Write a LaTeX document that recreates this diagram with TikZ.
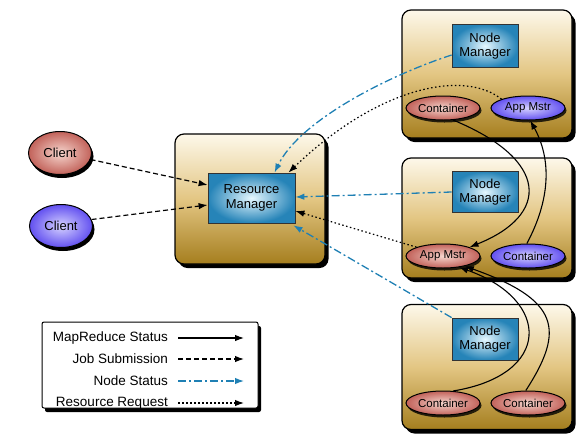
\documentclass[tikz,border=0pt]{standalone}
\usepackage{fontspec}
\setmainfont{Liberation Sans}
\usetikzlibrary{arrows.meta,shadows,calc,shapes.geometric}
\definecolor{nsblue}{HTML}{1F80B4}
\definecolor{boxtop}{HTML}{FDF8EA}
\definecolor{boxmid}{HTML}{E3C683}
\definecolor{boxbot}{HTML}{A57E1E}
\definecolor{mgrout}{HTML}{2684B8}
\definecolor{mgrin}{HTML}{E6F8FF}
\definecolor{redout}{HTML}{C2625A}
\definecolor{redin}{HTML}{F6D6CE}
\definecolor{bluout}{HTML}{6250F0}
\definecolor{bluin}{HTML}{D6D2FF}
\tikzset{
  hostbox/.style={draw=black,line width=1.2pt,rounded corners=9pt,
    top color=boxtop,bottom color=boxbot,middle color=boxmid,
    drop shadow={shadow xshift=3.5pt,shadow yshift=-4pt,fill=black,opacity=1}},
  mgrbox/.style={draw=black!80,line width=0.8pt,inner color=mgrin,outer color=mgrout,
    font=\fontsize{13}{14.5}\selectfont,align=center,minimum width=66pt,inner sep=1pt},
  redell/.style={ellipse,draw=black,line width=1pt,inner color=redin,outer color=redout,
    drop shadow={shadow xshift=1.5pt,shadow yshift=-2.5pt,fill=black,opacity=0.8}},
  bluell/.style={ellipse,draw=black,line width=1pt,inner color=bluin,outer color=bluout,
    drop shadow={shadow xshift=1.5pt,shadow yshift=-2.5pt,fill=black,opacity=0.8}},
  smallell/.style={minimum width=74pt,minimum height=24pt,inner sep=0pt,font=\fontsize{11.5}{12}\selectfont},
  clientell/.style={minimum width=63pt,minimum height=43pt,inner sep=0pt,font=\fontsize{13}{14}\selectfont},
  mrstat/.style={draw=black,line width=1.1pt,-{Latex[length=9pt,width=6.5pt]}},
  jobsub/.style={draw=black,line width=1.2pt,dash pattern=on 5pt off 3pt,-{Latex[length=9pt,width=6.5pt]}},
  nodestat/.style={draw=nsblue,line width=1.3pt,dash pattern=on 8pt off 3pt on 2pt off 3pt,-{Latex[length=9pt,width=6.5pt]}},
  resreq/.style={draw=black,line width=1.2pt,dash pattern=on 1.5pt off 2.5pt,-{Latex[length=9pt,width=6.5pt]}},
  legtext/.style={anchor=east,font=\fontsize{13.5}{14}\selectfont,inner sep=0pt}
}
\begin{document}
\begin{tikzpicture}[x=1pt,y=-1pt]
\useasboundingbox (0,0) rectangle (584,445);
% host boxes
\node[hostbox,minimum width=150pt,minimum height=130pt] (rmbox) at (250,199) {};
\node[hostbox,minimum width=170pt,minimum height=128pt] (h1) at (487,74) {};
\node[hostbox,minimum width=170pt,minimum height=120pt] (h2) at (487,218) {};
\node[hostbox,minimum width=170pt,minimum height=125pt] (h3) at (487,367) {};
% managers
\node[mgrbox,minimum width=87pt,minimum height=50pt] (rm) at (251.5,198) {Resource\\Manager};
\node[mgrbox,minimum height=43pt] (nm1) at (485,46) {Node\\Manager};
\node[mgrbox,minimum height=41pt] (nm2) at (485,192) {Node\\Manager};
\node[mgrbox,minimum height=42pt] (nm3) at (485,339) {Node\\Manager};
% containers
\node[redell,smallell] (c1) at (443,108) {Container};
\node[bluell,smallell] (am1) at (528,108) {App Mstr};
\node[redell,smallell] (am2) at (443,256) {App Mstr};
\node[bluell,smallell] (c2) at (528,256) {Container};
\node[redell,smallell] (c3) at (443,403) {Container};
\node[redell,smallell] (c4) at (528,403) {Container};
% clients
\node[redell,clientell,drop shadow={shadow xshift=2pt,shadow yshift=-3.5pt,fill=black,opacity=1}] (cl1) at (60,153) {Client};
\node[bluell,clientell,drop shadow={shadow xshift=2pt,shadow yshift=-3.5pt,fill=black,opacity=1}] (cl2) at (61,226) {Client};
% job submission
\draw[jobsub] (cl1.-12) -- ([yshift=13pt]rm.west);
\draw[jobsub] (cl2.12) -- ([yshift=-7pt]rm.west);
% node status
\draw[nodestat] ([yshift=-9pt]nm1.west) .. controls (390,75) and (300,120) .. ([xshift=23pt]rm.north);
\draw[nodestat] (nm2.west) -- ([yshift=1pt]rm.east);
\draw[nodestat] (nm3.north west) -- ([xshift=-2pt,yshift=-2pt]rm.south east);
% resource request
\draw[resreq] (am1.north west) .. controls (465,70) and (380,85) .. ([xshift=-7pt]rm.north east);
\draw[resreq] (am2.north west) -- ([yshift=-13pt]rm.east);
% mapreduce status
\draw[mrstat] (c1.-50) .. controls (550,160) and (550,215) .. (am2.north east);
\draw[mrstat] (c2.95) .. controls (550,200) and (552,160) .. (am1.-80);
\draw[mrstat] (c3.50) .. controls (552,375) and (552,300) .. (am2.-35);
\draw[mrstat] (c4.100) .. controls (565,330) and (560,300) .. (am2.-25);
% legend
\node[draw=black,line width=1pt,fill=white,rounded corners=2pt,minimum width=216pt,minimum height=86pt,
  drop shadow={shadow xshift=3pt,shadow yshift=-4pt,fill=black,opacity=1}] (leg) at (150,365) {};
\node[legtext] (l1) at (168,338) {MapReduce Status};
\node[legtext] (l2) at (168,359) {Job Submission};
\node[legtext] (l3) at (168,381) {Node Status};
\node[legtext] (l4) at (168,403) {Resource Request};
\coordinate (e1) at (244,338); \coordinate (e2) at (244,359);
\coordinate (e3) at (244,381); \coordinate (e4) at (244,403);
\draw[mrstat] ([xshift=10pt]l1.east) -- (e1);
\draw[jobsub] ([xshift=10pt]l2.east) -- (e2);
\draw[nodestat] ([xshift=10pt]l3.east|-e3) -- (e3);
\draw[resreq] ([xshift=10pt]l4.east) -- (e4);
\end{tikzpicture}
\end{document}
